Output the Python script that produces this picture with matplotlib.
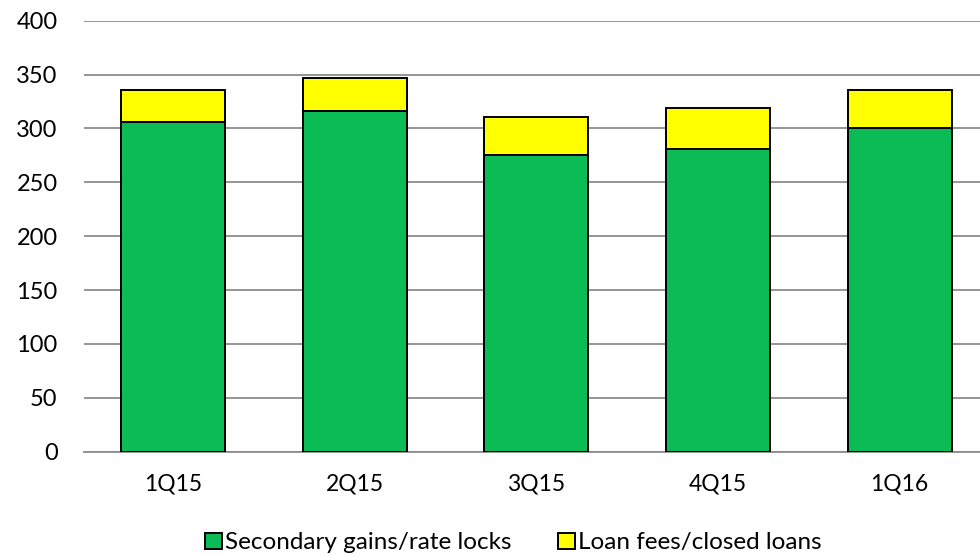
import matplotlib
matplotlib.use("Agg")
import matplotlib.pyplot as plt
import numpy as np

# Quarterly mortgage banking revenue components
quarters = ["1Q15", "2Q15", "3Q15", "4Q15", "1Q16"]
secondary_gains = [306, 316, 275, 281, 300]
loan_fees = [30, 31, 36, 38, 36]
y_ticks = [0, 50, 100, 150, 200, 250, 300, 350, 400]

GREEN = "#0BBB55"
YELLOW = "#FFFF00"
GRID = "#8C8C8C"

plt.rcParams["font.family"] = ["Lato", "DejaVu Sans"]

fig = plt.figure(figsize=(9.8, 5.56), dpi=100)
ax = fig.add_axes([0.0857, 0.1876, 0.9143, 0.7752])

x = np.arange(len(quarters))
width = 0.573
ax.bar(x, secondary_gains, width, color=GREEN, edgecolor="black", linewidth=1.4,
       label="Secondary gains/rate locks", zorder=3)
ax.bar(x, loan_fees, width, bottom=secondary_gains, color=YELLOW, edgecolor="black",
       linewidth=1.4, label="Loan fees/closed loans", zorder=3)

ax.set_xlim(-0.492, 4.443)
ax.set_ylim(0, 400)
ax.set_yticks(y_ticks)
ax.set_xticks(x)
ax.set_xticklabels(quarters)
ax.yaxis.grid(True, color=GRID, linewidth=1.3, zorder=0)
ax.tick_params(axis="both", length=0, colors="black")
ax.tick_params(axis="y", pad=19, labelsize=17)
ax.tick_params(axis="x", pad=16, labelsize=16.5)
for side in ["top", "right", "left"]:
    ax.spines[side].set_visible(False)
ax.spines["bottom"].set_color(GRID)
ax.spines["bottom"].set_linewidth(1.3)

fig.legend(loc="center", bbox_to_anchor=(0.524, 0.0234), ncol=2, frameon=False,
           fontsize=17.5, handlelength=0.7, handleheight=0.65, handletextpad=0.12,
           columnspacing=1.9, borderpad=0)

fig.savefig("out.png", dpi=100)
